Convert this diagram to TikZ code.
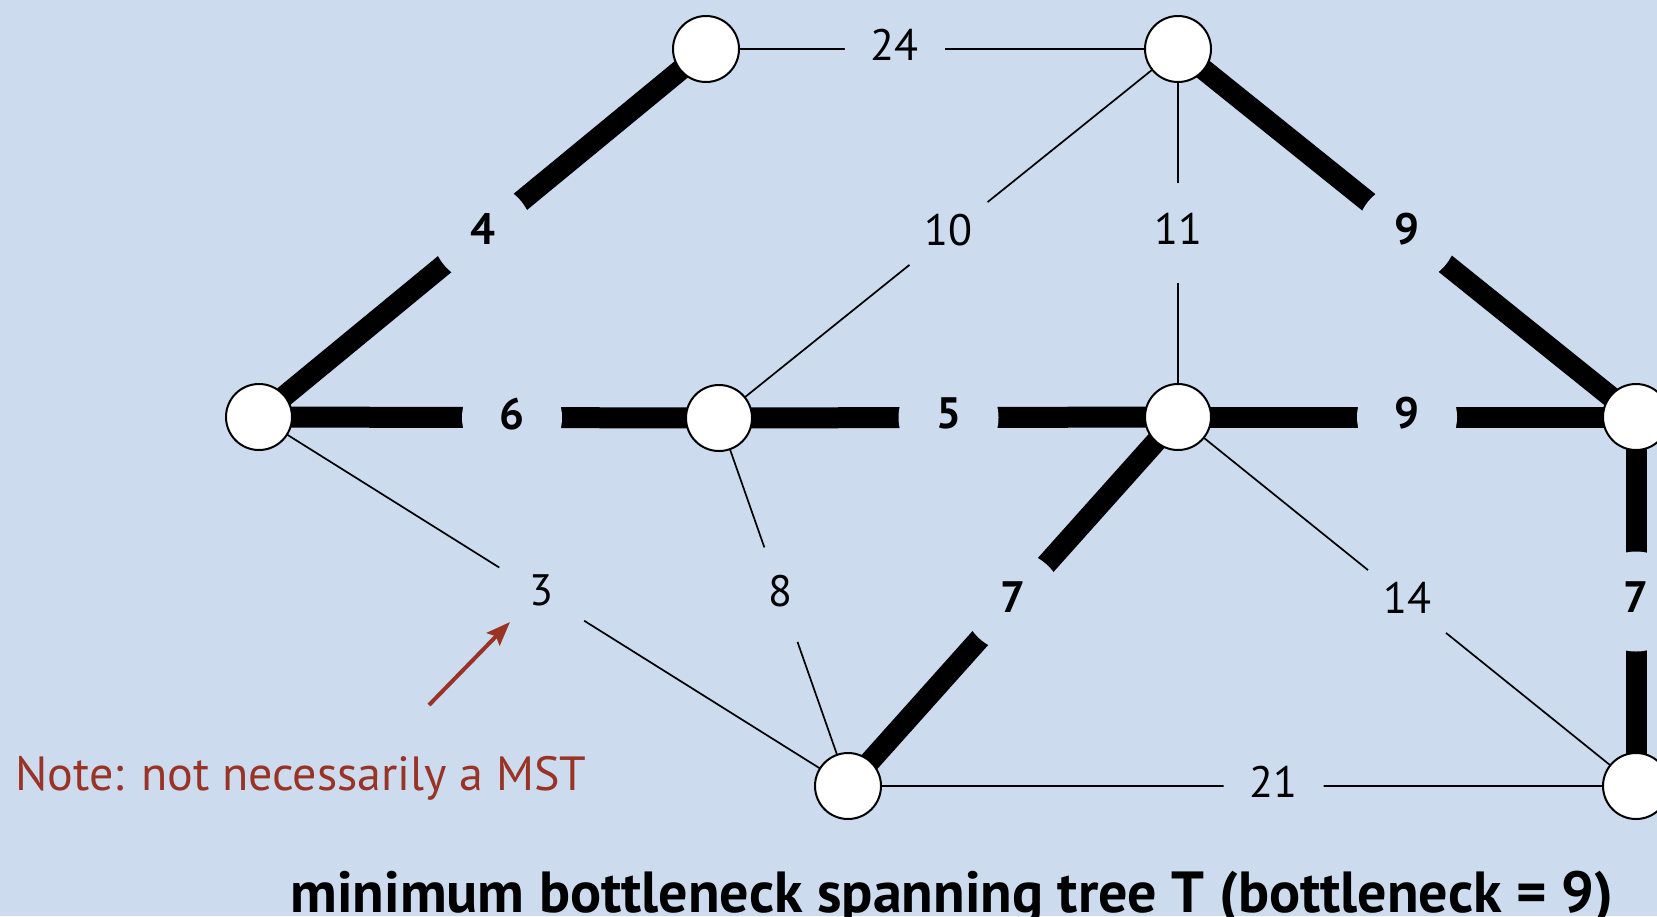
\documentclass[tikz,border=0pt]{standalone}
\usepackage{fontspec}
\setmainfont{PT Sans}
\usetikzlibrary{arrows.meta}
\definecolor{bgblue}{RGB}{204,219,237}
\definecolor{notered}{RGB}{153,51,38}
\pgfdeclarelayer{bglayer}
\pgfdeclarelayer{edges}
\pgfsetlayers{bglayer,edges,main}
\begin{document}
\begin{tikzpicture}[x=0.5pt,y=-0.5pt,
  vertex/.style={circle,draw,fill=white,line width=1pt,minimum size=33pt,inner sep=0pt},
  thinedge/.style={line width=0.85pt},
  treeedge/.style={line width=10.5pt},
  wlabel/.style={circle,fill=bgblue,minimum size=50pt,inner sep=0pt,text depth=4pt,font=\fontsize{22}{26}\selectfont},
  tlabel/.style={wlabel,font=\fontsize{22}{26}\selectfont\bfseries},
]
\useasboundingbox (0,0) rectangle (1657,916);
\begin{pgfonlayer}{bglayer}
\fill[bgblue] (0,0) rectangle (1657,916);
\end{pgfonlayer}

\node[vertex] (A) at (706,49) {};
\node[vertex] (B) at (1178,49) {};
\node[vertex] (C) at (259,417) {};
\node[vertex] (D) at (719,418) {};
\node[vertex] (E) at (1178,417) {};
\node[vertex] (F) at (1636,417) {};
\node[vertex] (G) at (848,786) {};
\node[vertex] (H) at (1636,786) {};

\begin{pgfonlayer}{edges}
\draw[thinedge] (A.center) -- node[wlabel,pos=0.4]{24} (B.center);
\draw[treeedge] (A.center) -- node[tlabel]{4} (C.center);
\draw[thinedge] (B.center) -- node[wlabel]{10} (D.center);
\draw[thinedge] (B.center) -- node[wlabel]{11} (E.center);
\draw[treeedge] (B.center) -- node[tlabel]{9} (F.center);
\draw[treeedge] (C.center) -- node[tlabel,pos=0.55]{6} (D.center);
\draw[treeedge] (D.center) -- node[tlabel]{5} (E.center);
\draw[treeedge] (E.center) -- node[tlabel]{9} (F.center);
\draw[thinedge] (C.center) -- node[wlabel,pos=0.48]{3} (G.center);
\draw[thinedge] (D.center) -- node[wlabel,pos=0.48]{8} (G.center);
\draw[treeedge] (G.center) -- node[tlabel]{7} (E.center);
\draw[thinedge] (E.center) -- node[wlabel]{14} (H.center);
\draw[treeedge] (F.center) -- node[tlabel]{7} (H.center);
\draw[thinedge] (G.center) -- node[wlabel,pos=0.54]{21} (H.center);
\end{pgfonlayer}

\node[anchor=base west,text=notered,font=\fontsize{24}{28}\selectfont,inner sep=0pt] (note) at (15,790) {Note: not necessarily a MST};
\coordinate (arrtail) at (429,705);
\coordinate (arrtip) at (510,622);
\draw[notered,line width=2pt,-{Stealth[length=12pt,width=9pt,inset=2pt]}] (arrtail) -- (arrtip);

\node[anchor=base,font=\bfseries\fontsize{29}{33}\selectfont,inner sep=0pt] (title) at (952,912) {minimum bottleneck spanning tree T (bottleneck = 9)};
\end{tikzpicture}
\end{document}
